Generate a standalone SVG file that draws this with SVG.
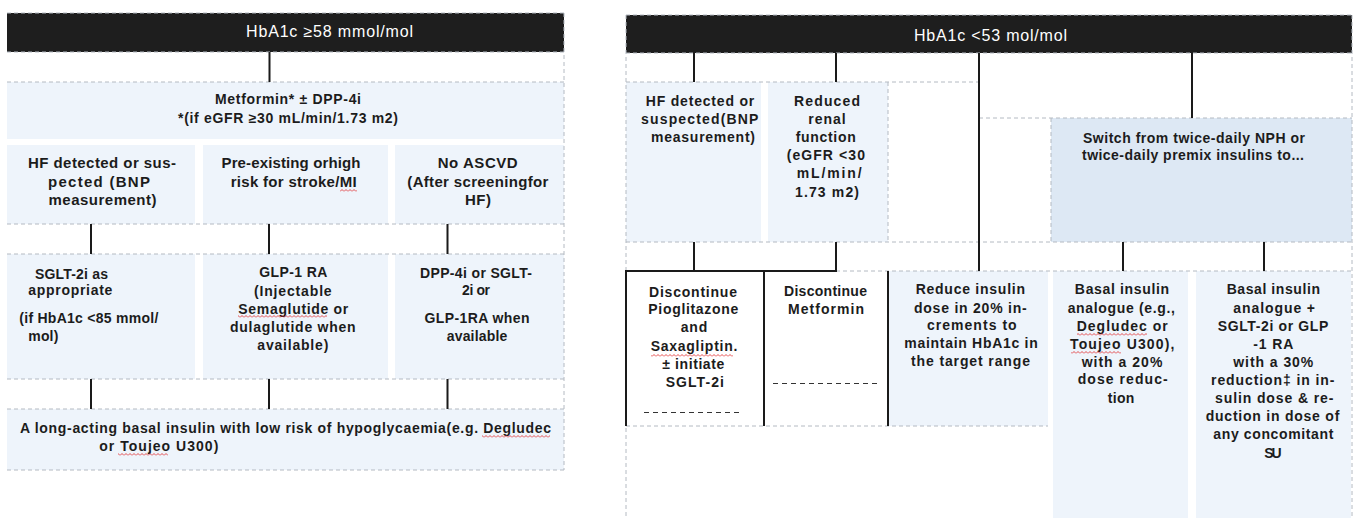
<svg xmlns="http://www.w3.org/2000/svg" width="1358" height="518" viewBox="0 0 1358 518">
<style>
.bg{fill:#ffffff}
.hdr{fill:#1e1e1e}
.box{fill:#eef4fb}
.box2{fill:#dde8f4}
.dash{stroke:#b4bac2;stroke-width:1;stroke-dasharray:4 3;fill:none}
.conn{stroke:#1a1a1a;stroke-width:2;fill:none}
.dl{stroke:#333;stroke-width:1;stroke-dasharray:5 4;fill:none}
.t{font-family:"Liberation Sans",Arial,sans-serif;font-weight:bold;font-size:14px;fill:#1c1c1c;text-anchor:middle}
.s{text-anchor:start}
.t15{font-size:15px}
.ht{font-family:"Liberation Sans",Arial,sans-serif;font-weight:normal;font-size:16px;fill:#ffffff;text-anchor:middle}
.sq{fill:url(#wave)}
</style>
<defs>
<pattern id="wave" width="4" height="3" patternUnits="userSpaceOnUse"><path d="M0 2.5 L2 0.5 L4 2.5" stroke="#e02020" stroke-width="0.8" fill="none"/></pattern>
</defs>
<rect class="bg" x="0" y="0" width="1358" height="518"/>

<!-- LEFT PANEL -->
<g id="left-header">
<rect class="hdr" x="7" y="13" width="557" height="39"/>
<text class="ht" x="329.5" y="37" textLength="167" lengthAdjust="spacing">HbA1c ≥58 mmol/mol</text>
</g>
<g id="left-metformin">
<rect class="box" x="7" y="82" width="557" height="57"/>
<text class="t" x="288" y="104" textLength="146" lengthAdjust="spacing">Metformin* ± DPP-4i</text>
<text class="t" x="288" y="123" textLength="220" lengthAdjust="spacing">*(if eGFR ≥30 mL/min/1.73 m2)</text>
</g>
<g id="left-hf">
<rect class="box" x="7" y="145" width="188" height="79"/>
<text class="t t15" x="102" y="168" textLength="148" lengthAdjust="spacing">HF detected or sus-</text>
<text class="t t15" x="99" y="187" textLength="102" lengthAdjust="spacing">pected (BNP</text>
<text class="t t15" x="102.5" y="205" textLength="108" lengthAdjust="spacing">measurement)</text>
</g>
<g id="left-stroke">
<rect class="box" x="203" y="145" width="185" height="79"/>
<text class="t t15" x="291" y="168" textLength="139" lengthAdjust="spacing">Pre-existing orhigh</text>
<text class="t t15" x="293.7" y="187" textLength="126" lengthAdjust="spacing">risk for stroke/MI</text>
<rect class="sq" x="340" y="189" width="17" height="3"/>
</g>
<g id="left-noascvd">
<rect class="box" x="395" y="145" width="169" height="79"/>
<text class="t t15" x="477.7" y="168" textLength="80" lengthAdjust="spacing">No ASCVD</text>
<text class="t t15" x="477.8" y="187" textLength="141" lengthAdjust="spacing">(After screeningfor</text>
<text class="t t15" x="478" y="205" textLength="26" lengthAdjust="spacing">HF)</text>
</g>
<g id="left-sglt">
<rect class="box" x="7" y="254" width="188" height="125"/>
<text class="t s" x="35" y="279" textLength="73" lengthAdjust="spacing">SGLT-2i as</text>
<text class="t s" x="28.3" y="295" textLength="84" lengthAdjust="spacing">appropriate</text>
<text class="t s" x="19.3" y="322.7" textLength="139" lengthAdjust="spacing">(if HbA1c &lt;85 mmol/</text>
<text class="t s" x="28.3" y="341" textLength="30" lengthAdjust="spacing">mol)</text>
</g>
<g id="left-glp1">
<rect class="box" x="203" y="254" width="185" height="125"/>
<text class="t" x="293.3" y="277.3" textLength="68" lengthAdjust="spacing">GLP-1 RA</text>
<text class="t" x="292.8" y="295.5" textLength="77.7" lengthAdjust="spacing">(Injectable</text>
<text class="t" x="293.3" y="314" textLength="110" lengthAdjust="spacing">Semaglutide or</text>
<rect class="sq" x="238" y="315" width="89" height="3"/>
<text class="t" x="292.8" y="332" textLength="125.7" lengthAdjust="spacing">dulaglutide when</text>
<text class="t" x="292.8" y="350" textLength="71" lengthAdjust="spacing">available)</text>
</g>
<g id="left-dpp4">
<rect class="box" x="395" y="254" width="169" height="125"/>
<text class="t" x="476" y="278" textLength="112" lengthAdjust="spacing">DPP-4i or SGLT-</text>
<text class="t" x="476" y="295" textLength="28" lengthAdjust="spacing">2i or</text>
<text class="t" x="477" y="323" textLength="105" lengthAdjust="spacing">GLP-1RA when</text>
<text class="t" x="477" y="341" textLength="60.6" lengthAdjust="spacing">available</text>
</g>
<g id="left-basal">
<rect class="box" x="7" y="409" width="557" height="61"/>
<text class="t" x="285.5" y="433.3" textLength="531" lengthAdjust="spacing">A long-acting basal insulin with low risk of hypoglycaemia(e.g. Degludec</text>
<text class="t s" x="99.3" y="450.7" textLength="119" lengthAdjust="spacing">or Toujeo U300)</text>
<rect class="sq" x="482" y="435" width="68" height="3"/>
<rect class="sq" x="118" y="453" width="50" height="3"/>
</g>

<!-- RIGHT PANEL -->
<g id="right-header">
<rect class="hdr" x="626" y="15" width="726" height="38"/>
<text class="ht" x="990.5" y="40.7" textLength="153" lengthAdjust="spacing">HbA1c &lt;53 mol/mol</text>
</g>
<g id="right-hf">
<rect class="box" x="626" y="82" width="135" height="160"/>
<text class="t" x="700" y="106" textLength="108.6" lengthAdjust="spacing">HF detected or</text>
<text class="t" x="699.7" y="123.5" textLength="117.3" lengthAdjust="spacing">suspected(BNP</text>
<text class="t" x="703" y="141.7" textLength="104" lengthAdjust="spacing">measurement)</text>
</g>
<g id="right-renal">
<rect class="box" x="768" y="82" width="120" height="160"/>
<text class="t" x="827" y="106" textLength="66" lengthAdjust="spacing">Reduced</text>
<text class="t" x="827" y="123.5" textLength="37.4" lengthAdjust="spacing">renal</text>
<text class="t" x="825.7" y="141.7" textLength="60" lengthAdjust="spacing">function</text>
<text class="t" x="825.8" y="160" textLength="78.3" lengthAdjust="spacing">(eGFR &lt;30</text>
<text class="t" x="829.2" y="178.3" textLength="65" lengthAdjust="spacing">mL/min/</text>
<text class="t" x="827" y="196.7" textLength="64" lengthAdjust="spacing">1.73 m2)</text>
</g>
<g id="right-switch">
<rect class="box2" x="1051" y="118" width="301" height="124"/>
<text class="t" x="1194" y="142.7" textLength="222" lengthAdjust="spacing">Switch from twice-daily NPH or</text>
<text class="t" x="1193" y="160" textLength="222" lengthAdjust="spacing">twice-daily premix insulins to...</text>
</g>
<g id="right-pioglitazone">
<text class="t" x="693" y="296.7" textLength="88" lengthAdjust="spacing">Discontinue</text>
<text class="t" x="693.3" y="314.3" textLength="90" lengthAdjust="spacing">Pioglitazone</text>
<text class="t" x="694" y="331.7" textLength="26.7" lengthAdjust="spacing">and</text>
<text class="t" x="694" y="350.7" textLength="86.7" lengthAdjust="spacing">Saxagliptin.</text>
<rect class="sq" x="651" y="354" width="82" height="3"/>
<text class="t" x="693.3" y="369" textLength="62" lengthAdjust="spacing">± initiate</text>
<text class="t" x="694.8" y="387.3" textLength="58.3" lengthAdjust="spacing">SGLT-2i</text>
<line class="dl" x1="644" y1="412.5" x2="741" y2="412.5"/>
</g>
<g id="right-metformin">
<text class="t" x="825.5" y="296" textLength="83" lengthAdjust="spacing">Discontinue</text>
<text class="t" x="826" y="314" textLength="76" lengthAdjust="spacing">Metformin</text>
<line class="dl" x1="773" y1="383.5" x2="879" y2="383.5"/>
</g>
<g id="right-reduce">
<rect class="box" x="888" y="271" width="160" height="155"/>
<text class="t" x="970.3" y="294.3" textLength="109.3" lengthAdjust="spacing">Reduce insulin</text>
<text class="t" x="970.3" y="312.7" textLength="112.7" lengthAdjust="spacing">dose in 20% in-</text>
<text class="t" x="971.8" y="330" textLength="89.7" lengthAdjust="spacing">crements to</text>
<text class="t" x="971" y="348.3" textLength="133.4" lengthAdjust="spacing">maintain HbA1c in</text>
<text class="t" x="970.5" y="366" textLength="119" lengthAdjust="spacing">the target range</text>
</g>
<g id="right-basal">
<rect class="box" x="1053" y="271" width="135" height="247"/>
<text class="t" x="1122" y="294.3" textLength="94.3" lengthAdjust="spacing">Basal insulin</text>
<text class="t" x="1121.3" y="312.7" textLength="107.3" lengthAdjust="spacing">analogue (e.g.,</text>
<text class="t" x="1122.2" y="330.7" textLength="91" lengthAdjust="spacing">Degludec or</text>
<rect class="sq" x="1077" y="333" width="70" height="3"/>
<text class="t" x="1122.2" y="349" textLength="104.3" lengthAdjust="spacing">Toujeo U300),</text>
<rect class="sq" x="1071" y="351" width="50" height="3"/>
<text class="t" x="1122" y="366.7" textLength="80.7" lengthAdjust="spacing">with a 20%</text>
<text class="t" x="1122.7" y="384.3" textLength="90" lengthAdjust="spacing">dose reduc-</text>
<text class="t" x="1121" y="402.7" textLength="26.7" lengthAdjust="spacing">tion</text>
</g>
<g id="right-basal-sglt">
<rect class="box" x="1196" y="271" width="155" height="247"/>
<text class="t" x="1273.3" y="294.3" textLength="93.3" lengthAdjust="spacing">Basal insulin</text>
<text class="t" x="1274.2" y="312.7" textLength="81.7" lengthAdjust="spacing">analogue +</text>
<text class="t" x="1273" y="331" textLength="110.6" lengthAdjust="spacing">SGLT-2i or GLP</text>
<text class="t" x="1273.3" y="349.3" textLength="40" lengthAdjust="spacing">-1 RA</text>
<text class="t" x="1273.3" y="367" textLength="80" lengthAdjust="spacing">with a 30%</text>
<text class="t" x="1272.7" y="385" textLength="123.3" lengthAdjust="spacing">reduction‡ in in-</text>
<text class="t" x="1274.2" y="403.3" textLength="118.3" lengthAdjust="spacing">sulin dose &amp; re-</text>
<text class="t" x="1272.5" y="421.3" textLength="133.6" lengthAdjust="spacing">duction in dose of</text>
<text class="t" x="1273.3" y="439.3" textLength="120" lengthAdjust="spacing">any concomitant</text>
<text class="t" x="1273" y="457.7" textLength="17.4" lengthAdjust="spacing">SU</text>
</g>

<g id="grid">
<path class="dash" d="M7 13H564M7 52H564M7 82H564M7 224H564M7 254H564M7 379H564M7 409H564M7 470H564M564 13V470"/>
<path class="dash" d="M626 15H1352M626 53H1352M626 82H979M979 118H1352M626 242H1352M836 271H1352M626 426H1048M626 15V518M1352 15V518M888 82V242M1051 118V242"/>
</g>

<g id="connectors">
<path class="conn" d="M269.5 52V82M91 224V254M269 224V254M447.5 224V254M91 379V409M269 379V409M447.5 379V409"/>
<path class="conn" d="M694 53V82M836 53V82M979 53V271M1192 53V118M694 242V271M836 242V271M1123 242V271M1264 242V271"/>
<path class="conn" d="M626 426V271H837M764 271V426M888 271V426"/>
</g>
</svg>
